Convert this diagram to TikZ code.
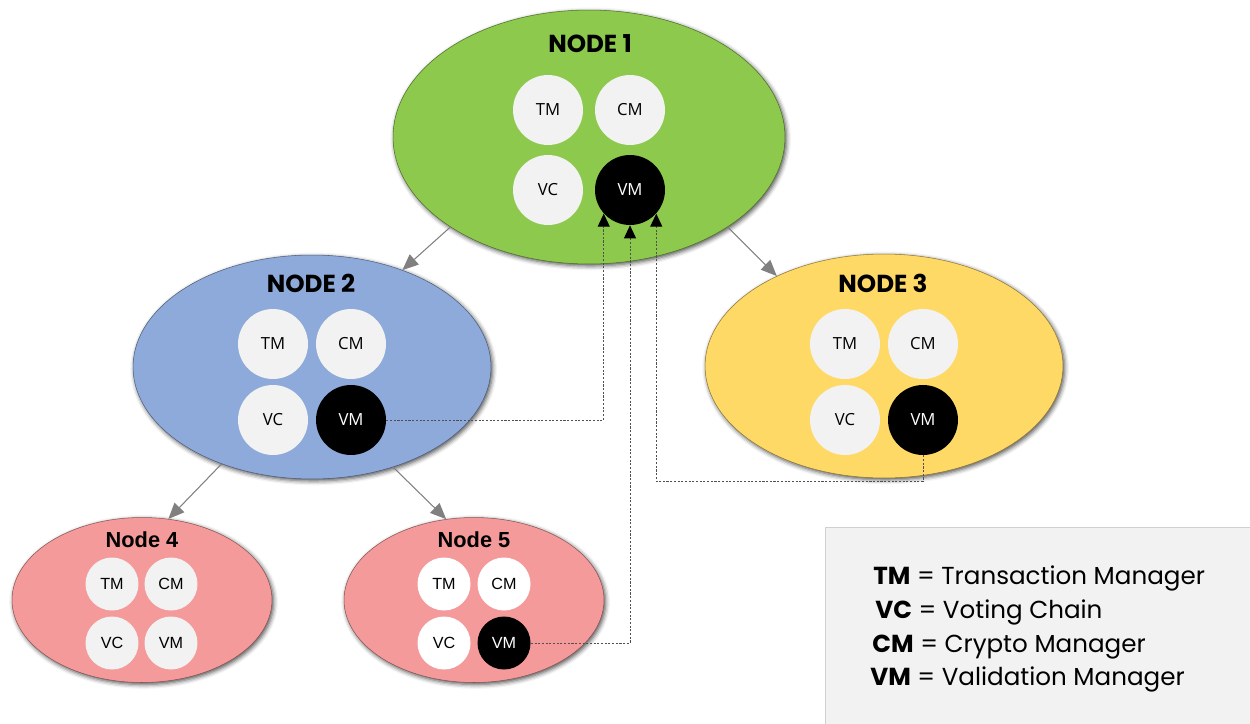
\documentclass[tikz,border=0pt]{standalone}
\usepackage{fontspec}
\setmainfont{Open Sans}
\newfontfamily\titlefont{Poppins}
\newfontfamily\arialfont{Liberation Sans}
\usetikzlibrary{shapes.geometric,arrows.meta,shadows.blur}

\definecolor{greenzone}{HTML}{8DC94C}
\definecolor{bluezone}{HTML}{8EAADB}
\definecolor{yellowzone}{HTML}{FFD966}
\definecolor{pinkzone}{HTML}{F49A9A}
\definecolor{modgray}{HTML}{F2F2F2}
\definecolor{arrowgray}{HTML}{808080}
\definecolor{dashgray}{HTML}{505050}
\definecolor{legendgray}{HTML}{F2F2F2}
\definecolor{legendline}{HTML}{D0D0D0}

\tikzset{
  zone/.style={ellipse, inner sep=0pt, fill=#1, draw=#1!55!black, line width=0.3pt,
    blur shadow={shadow xshift=0.9pt, shadow yshift=-1.1pt, shadow blur radius=2.5pt, shadow opacity=70}},
  bigzone/.style={zone=#1, minimum width=7.84cm, minimum height=5.08cm},
  midzone/.style={zone=#1, minimum width=7.16cm, minimum height=4.48cm},
  smallzone/.style={zone=#1, minimum width=5.2cm, minimum height=3.3cm},
  mod/.style={circle, inner sep=0pt, minimum size=1.4cm, fill=modgray, font=\fontsize{9.5}{11}\selectfont},
  vm/.style={mod, fill=black, text=white},
  smallmod/.style={circle, inner sep=0pt, minimum size=1.06cm, fill=modgray, font=\arialfont\fontsize{9.2}{11}\selectfont},
  smallvm/.style={smallmod, fill=black, text=white},
  title/.style={inner sep=0pt, font=\titlefont\bfseries\fontsize{14}{16}\selectfont},
  smalltitle/.style={inner sep=0pt, font=\arialfont\bfseries\fontsize{12.4}{14}\selectfont},
  link/.style={draw=arrowgray, line width=0.6pt, -{Triangle[length=0.32cm, width=0.27cm]}},
  sync/.style={draw=dashgray, line width=0.5pt, dash pattern=on 1.2pt off 0.9pt, -{Triangle[length=0.26cm, width=0.24cm, color=black]}},
  legendtext/.style={anchor=base west, inner sep=0pt, font=\titlefont\fontsize{14}{16}\selectfont}
}

\begin{document}
\begin{tikzpicture}[x=0.02cm, y=-0.02cm]
\useasboundingbox (0,0) rectangle (1250,723);

\node[bigzone=greenzone] (n1) at (589,137) {};
\node[midzone=bluezone] (n2) at (312,367) {};
\node[midzone=yellowzone] (n3) at (884,366) {};
\node[smallzone=pinkzone] (n4) at (142,600) {};
\node[smallzone=pinkzone] (n5) at (474,600) {};

\node[title] (t1) at (590,44) {NODE 1};
\node[mod] (n1tm) at (548,110) {TM};
\node[mod] (n1cm) at (630,110) {CM};
\node[mod] (n1vc) at (548,190) {VC};
\node[vm] (n1vm) at (630,190) {VM};

\node[title] (t2) at (311,283) {NODE 2};
\node[mod] (n2tm) at (273,344) {TM};
\node[mod] (n2cm) at (351,344) {CM};
\node[mod] (n2vc) at (273,420) {VC};
\node[vm] (n2vm) at (351,420) {VM};

\node[title] (t3) at (883,283) {NODE 3};
\node[mod] (n3tm) at (845,344) {TM};
\node[mod] (n3cm) at (923,344) {CM};
\node[mod] (n3vc) at (845,420) {VC};
\node[vm] (n3vm) at (923,420) {VM};

\node[smalltitle] (t4) at (142,540) {Node 4};
\node[smallmod] (n4tm) at (112,584) {TM};
\node[smallmod] (n4cm) at (171,584) {CM};
\node[smallmod] (n4vc) at (112,643) {VC};
\node[smallmod] (n4vm) at (171,643) {VM};

\node[smalltitle] (t5) at (474,540) {Node 5};
\node[smallmod, fill=white] (n5tm) at (444,584) {TM};
\node[smallmod, fill=white] (n5cm) at (504,584) {CM};
\node[smallmod, fill=white] (n5vc) at (444,643) {VC};
\node[smallvm] (n5vm) at (504,643) {VM};

\draw[link] (n1.213) -- (n2.47);
\draw[link] (n1.327) -- (n3.140);
\draw[link] (n2.227) -- (n4.72);
\draw[link] (n2.309) -- (n5.109);

\draw[sync] (n2vm.east) -| (n1vm.222);
\draw[sync] (n5vm.east) -| (n1vm.south);
\draw[sync] (n3vm.south) -- ++(0,26) -| (n1vm.318);

\draw[fill=legendgray, draw=legendline] (825,527) rectangle (1252,725);
\node[legendtext] (leg1) at (873,584) {\textbf{TM} = Transaction Manager};
\node[legendtext] (leg2) at (875,618) {\textbf{VC} = Voting Chain};
\node[legendtext] (leg3) at (872,652) {\textbf{CM} = Crypto Manager};
\node[legendtext] (leg4) at (870,685) {\textbf{VM} = Validation Manager};
\end{tikzpicture}
\end{document}
